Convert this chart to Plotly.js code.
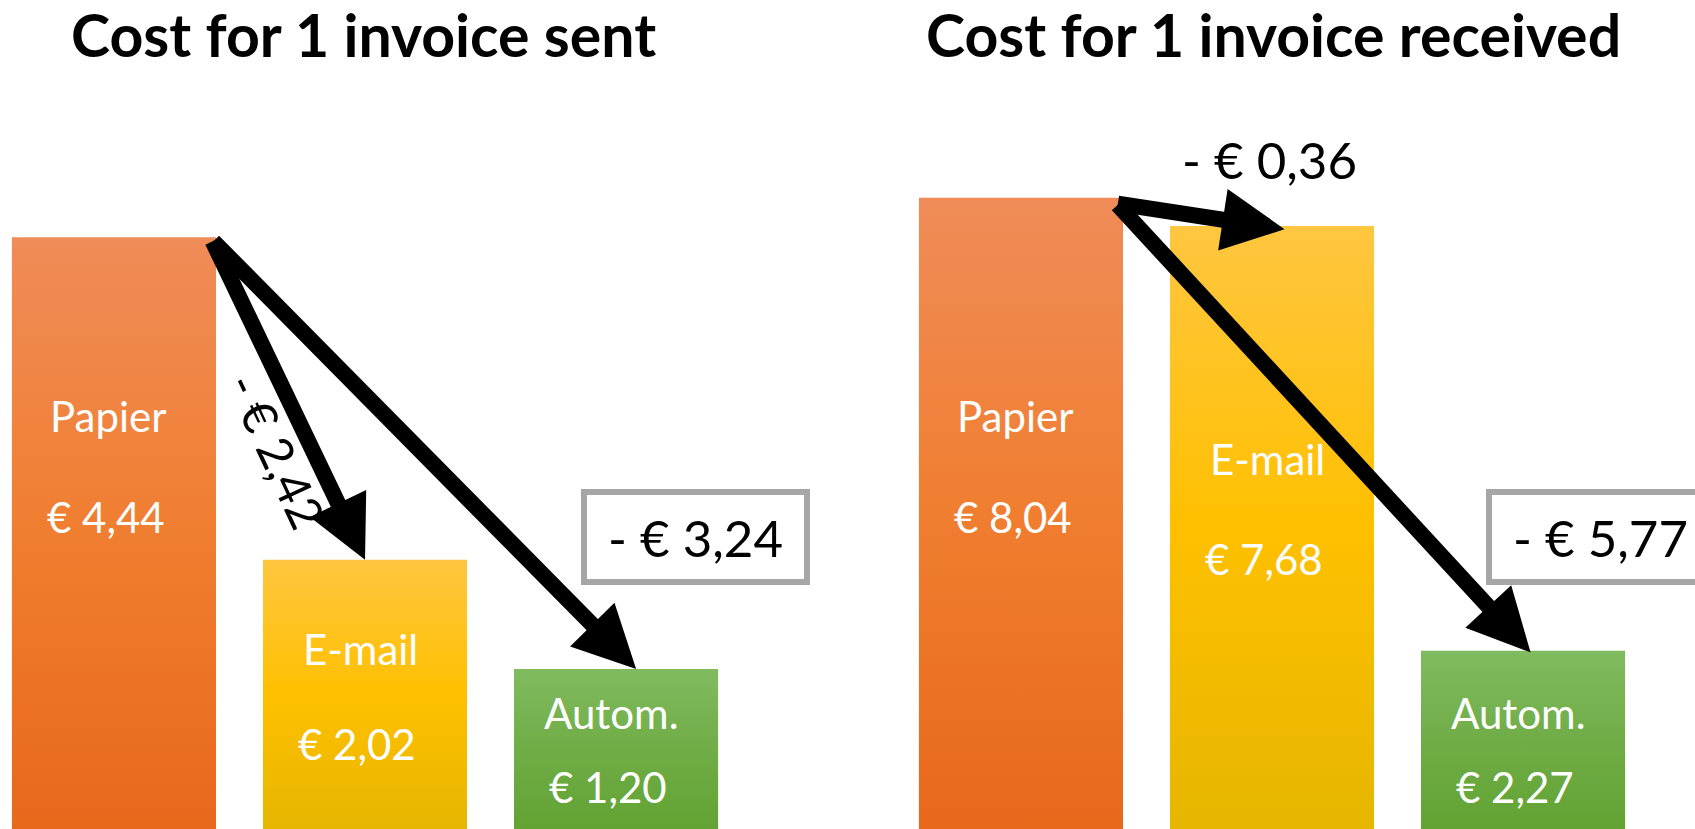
<!DOCTYPE html>
<html>
<head>
<meta charset="utf-8">
<script src="https://cdn.plot.ly/plotly-3.0.1.min.js"></script>
<style>html,body{margin:0;padding:0;background:#fff;}#chart{width:1695px;height:829px;}</style>
</head>
<body>
<div id="chart"></div>
<script>
// ---- data ----
const categories = ['Papier', 'E-mail', 'Autom.'];
const sentCost = [4.44, 2.02, 1.20];
const receivedCost = [8.04, 7.68, 2.27];
const chartTitles = ['Cost for 1 invoice sent', 'Cost for 1 invoice received'];

// gradient colours per category (top, middle, bottom)
const gradTop = ['#F08C58', '#FFC640', '#80BB5F'];
const gradMid = ['#F07E30', '#FFC000', '#70AD47'];
const gradBot = ['#E8681C', '#E6B600', '#62A333'];

const euro = v => '€ ' + v.toFixed(2).replace('.', ',');
const diff = (a, b) => '- € ' + (a - b).toFixed(2).replace('.', ',');

const FONT = 'Lato, "Open Sans", sans-serif';
const halfBar = 0.40;

const traces = [
  {type: 'bar', x: categories, y: sentCost, xaxis: 'x', yaxis: 'y',
   marker: {color: gradMid, line: {width: 0}}, hoverinfo: 'none'},
  {type: 'bar', x: categories, y: receivedCost, xaxis: 'x2', yaxis: 'y2',
   marker: {color: gradMid, line: {width: 0}}, hoverinfo: 'none'}
];

const W = 1695, H = 829;
const px = v => v / W;
const py = v => 1 - v / H;

const ann = [];
// titles
ann.push({text: '<b>' + chartTitles[0] + '</b>', xref: 'paper', yref: 'paper', x: px(363), y: py(35),
  showarrow: false, font: {family: FONT, size: 59, color: '#000'}, xanchor: 'center', yanchor: 'middle'});
ann.push({text: '<b>' + chartTitles[1] + '</b>', xref: 'paper', yref: 'paper', x: px(1273), y: py(35),
  showarrow: false, font: {family: FONT, size: 59, color: '#000'}, xanchor: 'center', yanchor: 'middle'});

// bar labels (name + value), white
const nameY = [[416, 649, 713], [416, 459, 713]];
const valY = [[517, 744, 787], [517, 559, 787]];
[[sentCost, 'x'], [receivedCost, 'x2']].forEach(([vals, xr], s) => {
  categories.forEach((c, i) => {
    ann.push({text: c, xref: xr, yref: 'paper', x: i, y: py(nameY[s][i]), xshift: -5,
      showarrow: false, font: {family: FONT, size: 42, color: '#fff'}, xanchor: 'center', yanchor: 'middle'});
    ann.push({text: euro(vals[i]), xref: xr, yref: 'paper', x: i, y: py(valY[s][i]), xshift: -8,
      showarrow: false, font: {family: FONT, size: 42, color: '#fff'}, xanchor: 'center', yanchor: 'middle'});
  });
});

// difference labels
ann.push({text: diff(sentCost[0], sentCost[1]), xref: 'paper', yref: 'paper', x: px(277), y: py(450),
  textangle: 65, showarrow: false, font: {family: FONT, size: 48, color: '#000'}, xanchor: 'center', yanchor: 'middle'});
ann.push({text: diff(sentCost[0], sentCost[2]), xref: 'paper', yref: 'paper', x: px(695.5), y: py(537),
  showarrow: false, font: {family: FONT, size: 51, color: '#000'}, bgcolor: '#fff',
  bordercolor: '#A6A6A6', borderwidth: 6, borderpad: 4, width: 209, height: 76, xanchor: 'center', yanchor: 'middle'});
ann.push({text: diff(receivedCost[0], receivedCost[1]), xref: 'paper', yref: 'paper', x: px(1269), y: py(160),
  showarrow: false, font: {family: FONT, size: 51, color: '#000'}, xanchor: 'center', yanchor: 'middle'});
ann.push({text: diff(receivedCost[0], receivedCost[2]), xref: 'paper', yref: 'paper', x: px(1600.5), y: py(537),
  showarrow: false, font: {family: FONT, size: 51, color: '#000'}, bgcolor: '#fff',
  bordercolor: '#A6A6A6', borderwidth: 6, borderpad: 4, width: 209, height: 76, xanchor: 'center', yanchor: 'middle'});

// arrows
function arrow(xr, yr, x0, y0, x1, y1) {
  return {text: '', xref: xr, yref: yr, axref: xr, ayref: yr, x: x1, y: y1, ax: x0, ay: y0,
    showarrow: true, arrowhead: 2, arrowwidth: 16, arrowsize: 0.78, arrowcolor: '#000', standoff: 0};
}
ann.push(arrow('x', 'y', halfBar - 0.01, sentCost[0] - 0.02, 1, sentCost[1]));
ann.push(arrow('x', 'y', halfBar - 0.01, sentCost[0] - 0.02, 2.08, sentCost[2]));
ann.push(arrow('x2', 'y2', halfBar - 0.02, receivedCost[0] - 0.07, 1.05, receivedCost[1] - 0.04));
ann.push(arrow('x2', 'y2', halfBar - 0.02, receivedCost[0] - 0.07, 2.03, receivedCost[2] - 0.02));

const axisBase = {visible: false, showgrid: false, zeroline: false, fixedrange: true};
const layout = {
  width: W, height: H, margin: {l: 0, r: 0, t: 0, b: 0, pad: 0},
  paper_bgcolor: '#fff', plot_bgcolor: '#fff', showlegend: false, bargap: 0.187,
  xaxis: Object.assign({}, axisBase, {domain: [0, 0.5], type: 'category', range: [-0.454, 2.922]}),
  yaxis: Object.assign({}, axisBase, {domain: [0, 1], range: [0, 6.219]}),
  xaxis2: Object.assign({}, axisBase, {domain: [0.5, 1], type: 'category', range: [-0.691, 2.685], anchor: 'y2'}),
  yaxis2: Object.assign({}, axisBase, {domain: [0, 1], range: [0, 10.56], anchor: 'x2'}),
  annotations: ann
};

Plotly.newPlot('chart', traces, layout, {staticPlot: true, displayModeBar: false}).then(gd => {
  const svgNS = 'http://www.w3.org/2000/svg';
  const svg = gd.querySelector('svg.main-svg');
  let defs = svg.querySelector('defs');
  if (!defs) { defs = document.createElementNS(svgNS, 'defs'); svg.insertBefore(defs, svg.firstChild); }
  categories.forEach((c, i) => {
    const g = document.createElementNS(svgNS, 'linearGradient');
    g.setAttribute('id', 'bargrad' + i);
    g.setAttribute('x1', '0'); g.setAttribute('y1', '0'); g.setAttribute('x2', '0'); g.setAttribute('y2', '1');
    [[0, gradTop[i]], [0.5, gradMid[i]], [1, gradBot[i]]].forEach(([o, col]) => {
      const st = document.createElementNS(svgNS, 'stop');
      st.setAttribute('offset', o); st.setAttribute('stop-color', col);
      g.appendChild(st);
    });
    defs.appendChild(g);
  });
  gd.querySelectorAll('.barlayer .trace').forEach(tr => {
    tr.querySelectorAll('.point path').forEach((p, i) => { p.style.fill = 'url(#bargrad' + i + ')'; });
  });
});
</script>
</body>
</html>
